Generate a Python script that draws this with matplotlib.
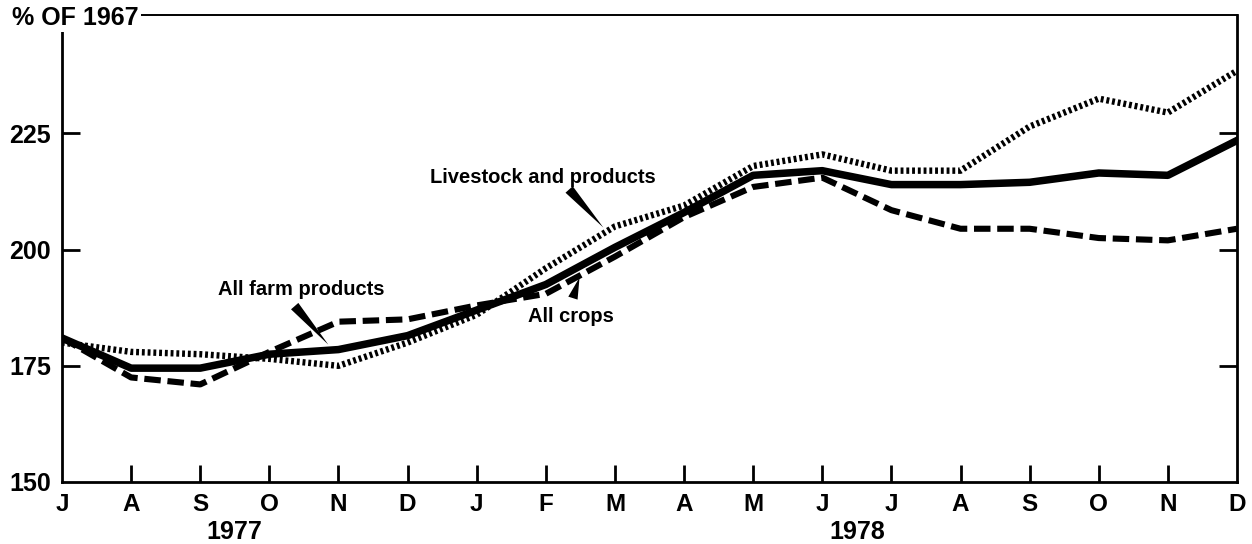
import matplotlib.pyplot as plt
import numpy as np

plt.rcParams['font.family'] = ['Liberation Sans', 'DejaVu Sans']
plt.rcParams['font.weight'] = 'bold'

# Monthly index, July 1977 - December 1978 (% of 1967)
months = ['J', 'A', 'S', 'O', 'N', 'D', 'J', 'F', 'M', 'A', 'M', 'J',
          'J', 'A', 'S', 'O', 'N', 'D']
years = ['1977', '1978']
year_pos = [2.5, 11.5]

all_farm = [181, 174.5, 174.5, 177.5, 178.5, 181.5, 187, 192.5, 200.5,
            208, 216, 217, 214, 214, 214.5, 216.5, 216, 223.5]
livestock = [180, 178, 177.5, 176.5, 175, 180, 186, 196, 205,
             209.5, 218, 220.5, 217, 217, 226.5, 232.5, 229.5, 238.5]
crops = [181, 172.5, 171, 178, 184.5, 185, 188, 190.5, 198.5,
         207, 213.5, 215.5, 208.5, 204.5, 204.5, 202.5, 202, 204.5]

y_ticks = [150, 175, 200, 225]

fig = plt.figure(figsize=(12.52, 5.44), dpi=100)
ax = fig.add_axes([62 / 1252, 1 - 482 / 544, (1237 - 62) / 1252, (482 - 15) / 544])

x = np.arange(len(months))
ax.plot(x, livestock, color='black', lw=4.6, linestyle=(0, (0.45, 0.45)),
        dash_capstyle='butt')
ax.plot(x, crops, color='black', lw=4.4, linestyle=(0, (2.7, 1.1)),
        dash_capstyle='butt')
ax.plot(x, all_farm, color='black', lw=5.4, solid_joinstyle='round')

ax.set_xlim(0, len(months) - 1)
ax.set_ylim(150, 250.5)
ax.set_xticks(x)
ax.set_xticklabels(months, fontsize=17.5)
ax.set_yticks(y_ticks)
ax.set_yticklabels([str(v) for v in y_ticks], fontsize=18)
ax.tick_params(axis='x', direction='in', length=12, width=2, pad=8, top=False)
ax.tick_params(axis='y', direction='in', length=13, width=2, pad=8,
               right=True, left=True)

# no tick marks drawn at the axis corners
xt = ax.xaxis.get_major_ticks()
xt[0].tick1line.set_visible(False)
xt[-1].tick1line.set_visible(False)
yt = ax.yaxis.get_major_ticks()
yt[0].tick1line.set_visible(False)
yt[0].tick2line.set_visible(False)

for side in ['left', 'right', 'bottom']:
    ax.spines[side].set_linewidth(2)
ax.spines['top'].set_linewidth(1.4)

for yr, pos in zip(years, year_pos):
    ax.text(pos, -0.108, yr, transform=ax.get_xaxis_transform(), ha='center',
            va='center', fontsize=18, fontweight='bold')

fig.text(12 / 1252, 1 - 18 / 544, '% OF 1967', fontsize=18, fontweight='bold',
         ha='left', va='center',
         bbox=dict(facecolor='white', edgecolor='none', pad=1.5))

# callout labels with wedge pointers
wedge = dict(arrowstyle='wedge,tail_width=0.7', color='black', lw=0)
ax.text(6.96, 215.6, 'Livestock and products', fontsize=14.5, ha='center',
        va='center', fontweight='bold')
ax.annotate('', xy=(7.86, 204.3), xytext=(7.31, 213.4), arrowprops=wedge)

ax.text(3.46, 191.4, 'All farm products', fontsize=14.5, ha='center',
        va='center', fontweight='bold')
ax.annotate('', xy=(3.88, 179.1), xytext=(3.34, 188.3), arrowprops=wedge)

ax.text(7.37, 185.6, 'All crops', fontsize=14.5, ha='center', va='center',
        fontweight='bold')
ax.annotate('', xy=(7.50, 194.6), xytext=(7.38, 189.0), arrowprops=wedge)

fig.savefig('out.png', dpi=100, facecolor='white')
